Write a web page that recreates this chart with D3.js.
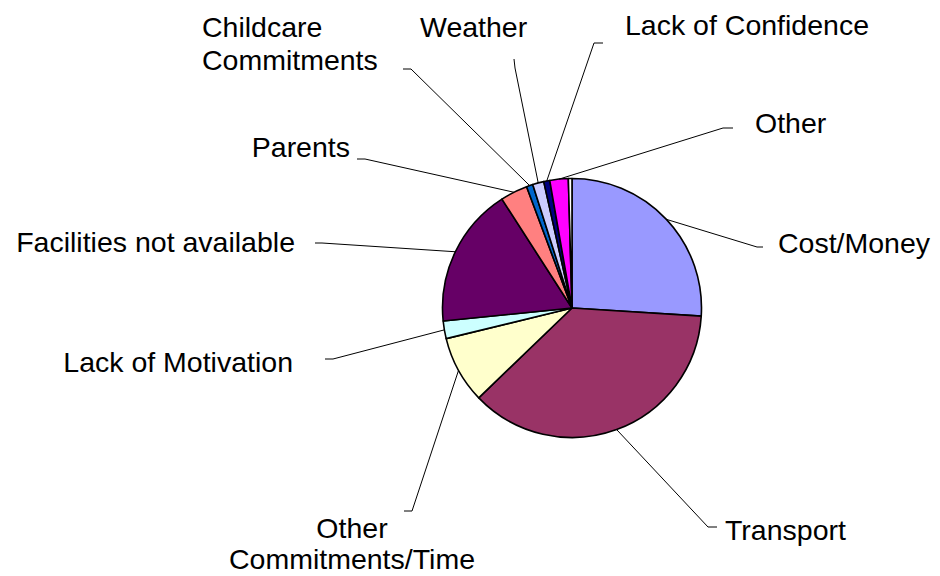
<!DOCTYPE html>
<html>
<head>
<meta charset="utf-8">
<script src="https://cdn.jsdelivr.net/npm/d3@7"></script>
<style>
  body { margin: 0; background: #fff; }
  svg { display: block; }
  text { font-family: "Liberation Sans", Arial, sans-serif; font-size: 28.5px; fill: #000; }
</style>
</head>
<body>
<svg id="chart"></svg>
<script>
// Categories, clockwise from 12 o'clock (last one is the unlabelled sliver)
var categories = ["Cost/Money", "Transport", "Other Commitments/Time", "Lack of Motivation",
  "Facilities not available", "Parents", "Childcare Commitments", "Weather",
  "Lack of Confidence", "Other", ""];

// Share of responses (%)
var values = [26.0, 36.8, 8.4, 2.2, 17.5, 3.4, 0.8, 1.4, 0.75, 2.3, 0.45];

// Slice colours
var colours = ["#9999FF", "#993366", "#FFFFCC", "#CCFFFF", "#660066", "#FF8080",
  "#0066CC", "#CCCCFF", "#000080", "#FF00FF", "#FFFFFF"];

// Label text lines
var labelLines = [["Cost/Money"], ["Transport"], ["Other", "Commitments/Time"], ["Lack of Motivation"],
  ["Facilities not available"], ["Parents"], ["Childcare", "Commitments"], ["Weather"],
  ["Lack of Confidence"], ["Other"], []];

// Label layout: elbow of leader, end of leader, text anchor point
var labelLayout = [
  {elbow: [757, 247], end: [763, 247], x: 778, y: 253, anchor: "start", lh: 33},
  {elbow: [708, 527], end: [717, 527], x: 725, y: 540, anchor: "start", lh: 33},
  {elbow: [412, 511], end: [404, 511], x: 352, y: 538, anchor: "middle", lh: 31},
  {elbow: [333, 359], end: [325, 359], x: 293, y: 372, anchor: "end", lh: 33},
  {elbow: [322, 243], end: [315, 243], x: 295, y: 252, anchor: "end", lh: 33},
  {elbow: [365, 159], end: [357, 159], x: 350, y: 157, anchor: "end", lh: 33},
  {elbow: [411, 69], end: [403, 69], x: 202, y: 37, anchor: "start", lh: 33},
  {elbow: [515, 68], end: [514, 59], x: 420, y: 37, anchor: "start", lh: 33},
  {elbow: [594, 43], end: [603, 43], x: 625, y: 35, anchor: "start", lh: 33},
  {elbow: [723, 128], end: [733, 128], x: 755, y: 133, anchor: "start", lh: 33},
  null
];

var width = 940, height = 576;
var cx = 572, cy = 308, radius = 129.5;

var svg = d3.select("#chart")
  .attr("width", width)
  .attr("height", height);

var data = categories.map(function(c, i) { return {name: c, value: values[i], i: i}; });

var pie = d3.pie()
  .sort(null)
  .value(function(d) { return d.value; });

var arc = d3.arc()
  .innerRadius(0)
  .outerRadius(radius);

var edge = d3.arc()
  .innerRadius(radius)
  .outerRadius(radius);

var arcs = pie(data);

var g = svg.append("g")
  .attr("transform", "translate(" + cx + "," + cy + ")");

g.selectAll("path.slice")
  .data(arcs)
  .enter()
.append("path")
  .attr("class", "slice")
  .attr("d", arc)
  .attr("fill", function(d) { return colours[d.data.i]; })
  .attr("stroke", "#000")
  .attr("stroke-width", 1.6)
  .attr("stroke-linejoin", "round");

// Leader lines from the slice edge (mid-angle) to the labels
var labelled = arcs.filter(function(d) { return labelLayout[d.data.i]; });

svg.selectAll("polyline.leader")
  .data(labelled)
  .enter()
.append("polyline")
  .attr("class", "leader")
  .attr("fill", "none")
  .attr("stroke", "#000")
  .attr("stroke-width", 1)
  .attr("points", function(d) {
    var p = edge.centroid(d);
    var L = labelLayout[d.data.i];
    return [[p[0] + cx, p[1] + cy], L.elbow, L.end].map(function(q) { return q.join(","); }).join(" ");
  });

// Labels
var labels = svg.selectAll("text.label")
  .data(labelled)
  .enter()
.append("text")
  .attr("class", "label")
  .attr("text-anchor", function(d) { return labelLayout[d.data.i].anchor; });

labels.selectAll("tspan")
  .data(function(d) {
    var L = labelLayout[d.data.i];
    return labelLines[d.data.i].map(function(t, k) { return {t: t, x: L.x, y: L.y + k * L.lh}; });
  })
  .enter()
.append("tspan")
  .attr("x", function(d) { return d.x; })
  .attr("y", function(d) { return d.y; })
  .text(function(d) { return d.t; });
</script>
</body>
</html>
